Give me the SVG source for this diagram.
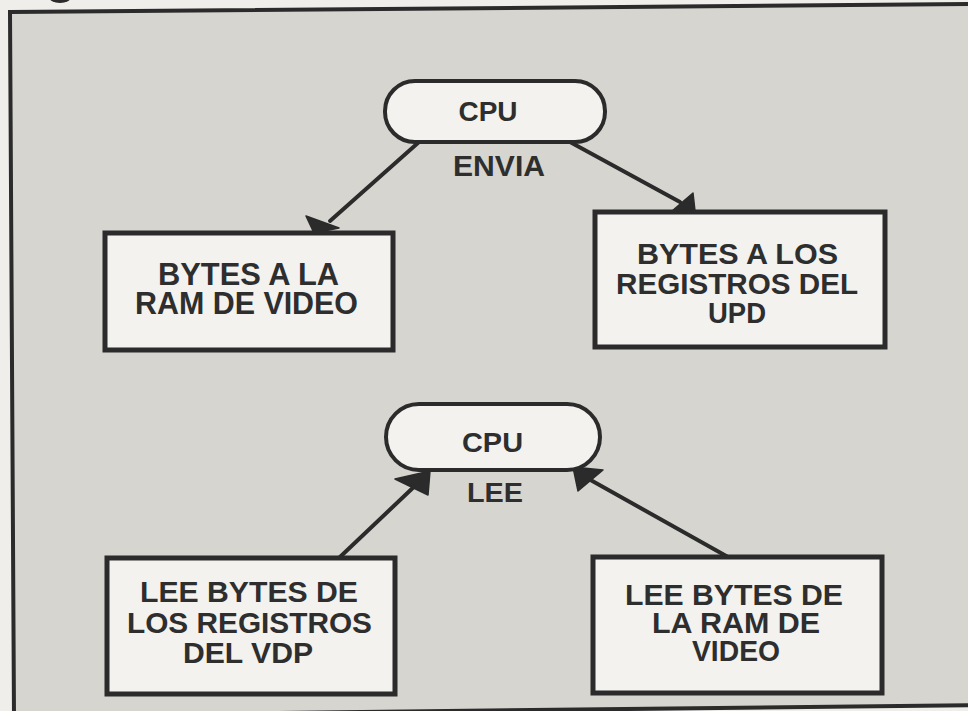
<svg xmlns="http://www.w3.org/2000/svg" width="968" height="711" viewBox="0 0 968 711">
  <defs>
    <style>
      .frame { fill: #d7d5d0; stroke: #2b2b2b; stroke-width: 4; }
      .box { fill: #f3f2ee; stroke: #2b2b2b; stroke-width: 5; }
      .pill { fill: #f3f2ee; stroke: #2b2b2b; stroke-width: 4; }
      .lbl { font-family: "Liberation Sans", Arial, sans-serif; font-weight: bold; fill: #2e2e2e; text-anchor: middle; }
      .conn { stroke: #2b2b2b; stroke-width: 4; fill: none; stroke-linecap: round; }
      .head { fill: #2b2b2b; stroke: #2b2b2b; stroke-width: 1.5; stroke-linejoin: round; }
    </style>
  </defs>
  <rect x="0" y="0" width="968" height="711" fill="#efeeea"/>
  <ellipse cx="60" cy="-3" rx="11" ry="6" fill="#2b2b2b"/>
  <polygon class="frame" points="10,12 980,4 980,705 14,716"/>

  <g id="connectors">
    <line class="conn" x1="419" y1="142" x2="330" y2="221"/>
    <polygon class="head" points="314,233 306,216 339,228"/>
    <line class="conn" x1="570" y1="142" x2="680" y2="202"/>
    <polygon class="head" points="695,211 672,211 693,193"/>
    <line class="conn" x1="340" y1="557" x2="418" y2="483"/>
    <polygon class="head" points="430,471 395,479 428,495"/>
    <line class="conn" x1="728" y1="557" x2="587" y2="478"/>
    <polygon class="head" points="573,467 603,470 578,491"/>
  </g>

  <g id="cpu-envia">
    <rect class="pill" x="385" y="81" width="220" height="61" rx="30" ry="30"/>
    <text class="lbl" x="488" y="121" font-size="27" textLength="59" lengthAdjust="spacingAndGlyphs">CPU</text>
  </g>
  <g id="label-envia">
    <text class="lbl" x="499" y="176" font-size="29" textLength="92" lengthAdjust="spacingAndGlyphs">ENVIA</text>
  </g>

  <g id="box-ram-video">
    <rect class="box" x="105" y="233" width="288" height="117"/>
    <text class="lbl" x="248.5" y="285" font-size="31" textLength="181" lengthAdjust="spacingAndGlyphs">BYTES A LA</text>
    <text class="lbl" x="246.5" y="314" font-size="31" textLength="223" lengthAdjust="spacingAndGlyphs">RAM DE VIDEO</text>
  </g>

  <g id="box-registros-upd">
    <rect class="box" x="595" y="212" width="290" height="135"/>
    <text class="lbl" x="737.5" y="264" font-size="30" textLength="201" lengthAdjust="spacingAndGlyphs">BYTES A LOS</text>
    <text class="lbl" x="737" y="294" font-size="30" textLength="242" lengthAdjust="spacingAndGlyphs">REGISTROS DEL</text>
    <text class="lbl" x="737" y="323" font-size="30" textLength="58" lengthAdjust="spacingAndGlyphs">UPD</text>
  </g>

  <g id="cpu-lee">
    <rect class="pill" x="386" y="404" width="214" height="66" rx="33" ry="33"/>
    <text class="lbl" x="492.5" y="452" font-size="28" textLength="61" lengthAdjust="spacingAndGlyphs">CPU</text>
  </g>
  <g id="label-lee">
    <text class="lbl" x="495" y="502" font-size="28" textLength="56" lengthAdjust="spacingAndGlyphs">LEE</text>
  </g>

  <g id="box-lee-vdp">
    <rect class="box" x="107" y="558" width="288" height="136"/>
    <text class="lbl" x="249" y="602" font-size="30" textLength="218" lengthAdjust="spacingAndGlyphs">LEE BYTES DE</text>
    <text class="lbl" x="249.5" y="633" font-size="30" textLength="245" lengthAdjust="spacingAndGlyphs">LOS REGISTROS</text>
    <text class="lbl" x="248" y="663" font-size="30" textLength="130" lengthAdjust="spacingAndGlyphs">DEL VDP</text>
  </g>

  <g id="box-lee-ram">
    <rect class="box" x="593" y="557" width="289" height="136"/>
    <text class="lbl" x="734" y="605" font-size="30" textLength="218" lengthAdjust="spacingAndGlyphs">LEE BYTES DE</text>
    <text class="lbl" x="736" y="633" font-size="30" textLength="168" lengthAdjust="spacingAndGlyphs">LA RAM DE</text>
    <text class="lbl" x="736" y="661" font-size="30" textLength="88" lengthAdjust="spacingAndGlyphs">VIDEO</text>
  </g>
</svg>
